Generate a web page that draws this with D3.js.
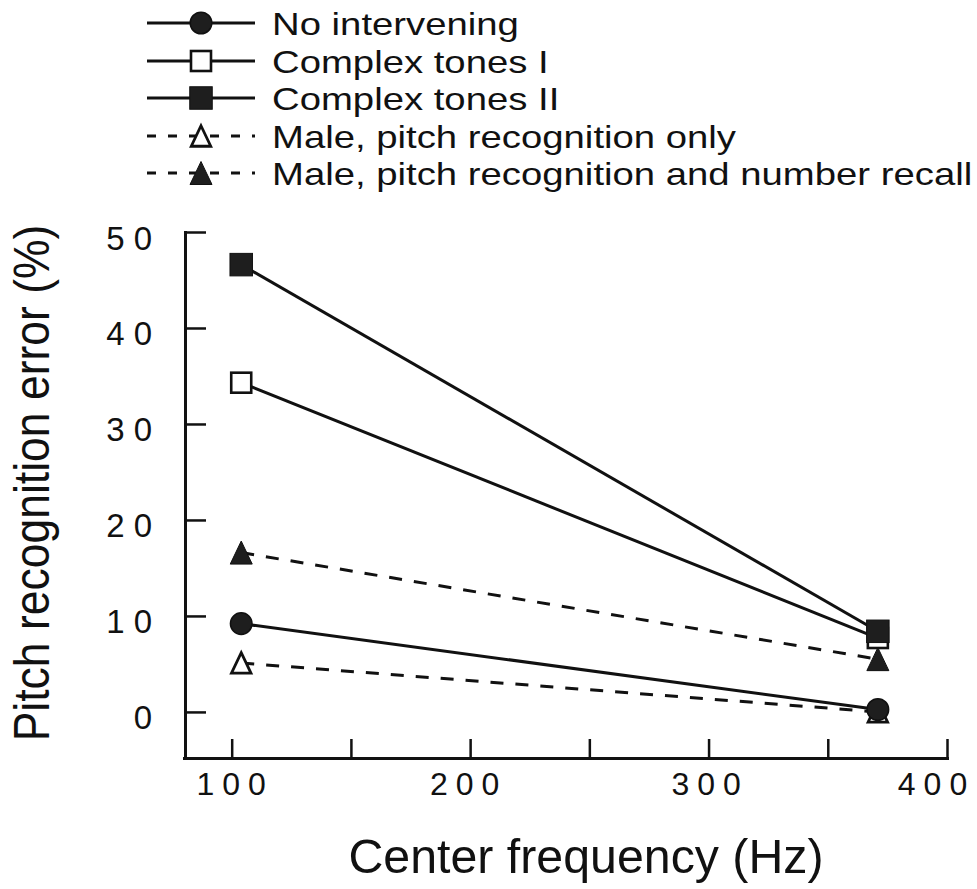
<!DOCTYPE html>
<html>
<head>
<meta charset="utf-8">
<script src="https://cdn.jsdelivr.net/npm/d3@7"></script>
<style>
  html, body { margin: 0; padding: 0; background: #fff; }
  svg { display: block; }
  text { font-family: "Liberation Sans", Arial, Helvetica, sans-serif; fill: #111; }
</style>
</head>
<body>
<svg id="chart" width="977" height="889"></svg>
<script>
// ---- data ----
const frequencies = [104, 371];                       // Hz
const seriesNames = [
  "No intervening",
  "Complex tones I",
  "Complex tones II",
  "Male, pitch recognition only",
  "Male, pitch recognition and number recall"
];
const noIntervening   = [9.2, 0.25];
const complexTonesI   = [34.3, 7.7];
const complexTonesII  = [46.6, 8.4];
const maleRecognition = [5.1, 0.0];
const maleRecall      = [16.6, 5.5];
const xTickValues = [100, 150, 200, 250, 300, 350, 400];
const xTickLabels = [100, 200, 300, 400];
const yTickValues = [0, 10, 20, 30, 40, 50];
const xTitle = "Center frequency (Hz)";
const yTitle = "Pitch recognition error (%)";

// ---- styling per series (not data) ----
const styles = [
  { values: noIntervening,   marker: "circle",   filled: true,  dashed: false },
  { values: complexTonesI,   marker: "square",   filled: false, dashed: false },
  { values: complexTonesII,  marker: "square",   filled: true,  dashed: false },
  { values: maleRecognition, marker: "triangle", filled: false, dashed: true },
  { values: maleRecall,      marker: "triangle", filled: true,  dashed: true }
];

const svg = d3.select("#chart");
const ink = "#111";
const fillInk = "#1e1e1e";

const x = d3.scaleLinear().domain([80, 400]).range([184, 947]);
const y = d3.scaleLinear().domain([-4.8, 50]).range([758, 232]);

// ---- axes ----
const xLabelShift = { 100: -1, 200: -6, 300: -3, 400: -15 };
const xAxis = d3.axisBottom(x)
  .tickValues(xTickValues)
  .tickSizeInner(-19)
  .tickSizeOuter(0)
  .tickPadding(0)
  .tickFormat(d => xTickLabels.includes(d) ? String(d) : "");
const gx = svg.append("g").attr("transform", `translate(0,${y.range()[0]})`).call(xAxis);
gx.select(".domain").attr("stroke", ink).attr("stroke-width", 3).attr("stroke-linecap", "square");
gx.selectAll(".tick line").attr("stroke", ink).attr("stroke-width", 2.5);
gx.selectAll(".tick text")
  .attr("font-size", 32).attr("letter-spacing", 8)
  .attr("fill", ink)
  .attr("dy", null).attr("y", 37)
  .attr("dx", d => 4 + (xLabelShift[d] || 0));

const yAxis = d3.axisLeft(y)
  .tickValues(yTickValues)
  .tickSizeInner(-21)
  .tickSizeOuter(0)
  .tickPadding(0)
  .tickFormat(d3.format("d"));
const gy = svg.append("g").attr("transform", `translate(${x.range()[0] + 1},0)`).call(yAxis);
gy.select(".domain").attr("stroke", ink).attr("stroke-width", 3).attr("stroke-linecap", "square");
gy.selectAll(".tick line").attr("stroke", ink).attr("stroke-width", 2.5);
gy.selectAll(".tick text")
  .attr("font-size", 33).attr("letter-spacing", 9)
  .attr("fill", ink)
  .attr("x", -24).attr("dy", null).attr("y", 17);

// ---- titles ----
svg.append("text")
  .attr("x", 586).attr("y", 873)
  .attr("text-anchor", "middle")
  .attr("font-size", 48.3)
  .text(xTitle);
svg.append("text")
  .attr("transform", "translate(49,483) rotate(-90) scale(1,1.12)")
  .attr("text-anchor", "middle")
  .attr("font-size", 44.5)
  .text(yTitle);

// ---- markers ----
function drawMarker(g, type, filled, cx, cy) {
  const fill = filled ? fillInk : "#fff";
  if (type === "circle") {
    g.append("circle").attr("cx", cx).attr("cy", cy).attr("r", 10.8)
      .attr("fill", fill).attr("stroke", ink).attr("stroke-width", 1.5);
  } else if (type === "square") {
    const s = filled ? 22.5 : 20;
    g.append("rect").attr("x", cx - s / 2).attr("y", cy - s / 2)
      .attr("width", s).attr("height", s)
      .attr("fill", fill).attr("stroke", ink).attr("stroke-width", filled ? 1 : 2.6);
  } else {
    const w = filled ? 22 : 19.5, h = filled ? 23 : 20.5;
    const p = `M${cx},${cy - h / 2}L${cx + w / 2},${cy + h / 2}L${cx - w / 2},${cy + h / 2}Z`;
    g.append("path").attr("d", p)
      .attr("fill", fill).attr("stroke", ink).attr("stroke-width", filled ? 1 : 2.8)
      .attr("stroke-linejoin", "miter");
  }
}

const line = d3.line().x((d, i) => x(frequencies[i])).y(d => y(d));

const gLines = svg.append("g");
styles.forEach(s => {
  gLines.append("path")
    .attr("d", line(s.values))
    .attr("fill", "none").attr("stroke", ink).attr("stroke-width", 3)
    .attr("stroke-dasharray", s.dashed ? "13,12" : null);
});

const gMarks = svg.append("g");
const drawOrder = [3, 0, 1, 2, 4];
drawOrder.forEach(k => {
  const s = styles[k];
  s.values.forEach((v, i) => drawMarker(gMarks, s.marker, s.filled, x(frequencies[i]), y(v)));
});

// ---- legend ----
const legendRowY = [23, 61, 98, 136, 173];
const gLeg = svg.append("g");
styles.forEach((s, k) => {
  const ry = legendRowY[k];
  gLeg.append("line")
    .attr("x1", 147).attr("x2", 255).attr("y1", ry).attr("y2", ry)
    .attr("stroke", ink).attr("stroke-width", 3)
    .attr("stroke-dasharray", s.dashed ? "9,12" : null);
  drawMarker(gLeg, s.marker, s.filled, 201, ry);
  gLeg.append("text")
    .attr("transform", `translate(272,${ry + 12}) scale(1.197,1)`)
    .attr("font-size", 32)
    .text(seriesNames[k]);
});
</script>
</body>
</html>
